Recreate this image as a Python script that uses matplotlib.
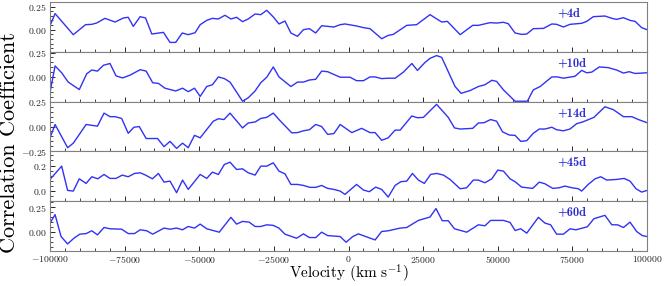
import matplotlib
matplotlib.use("Agg")
import matplotlib.pyplot as plt
from matplotlib.ticker import MultipleLocator, AutoMinorLocator, FuncFormatter

## DATA (velocity in km/s, correlation coefficient)

epochs = ["+4d", "+10d", "+14d", "+45d", "+60d"]

vel_4d = [-100000, -98300, -92200, -88100, -86000, -84400, -81600, -78200, -75400, -73800,
          -72100, -69800, -68000, -65900, -62000, -59800, -57900, -55700, -53700, -51400,
          -49700, -47500, -45600, -43600, -41400, -39400, -37500, -35500, -33600, -31300,
          -29400, -27400, -25200, -23300, -21300, -19300, -17100, -15100, -13100, -11000,
          -9000, -7000, -4900, -2800, -1200, 2700, 5000, 7200, 11100, 13300,
          15000, 19500, 22800, 27300, 31200, 33100, 37400, 41600, 43500, 47400,
          49600, 51900, 53500, 55800, 58000, 59700, 61900, 65300, 68100, 69700,
          72000, 74200, 78100, 79800, 82000, 85900, 88200, 89800, 92100, 94300,
          96000, 98200, 100000]
corr_4d = [0.043, 0.174, -0.054, 0.054, 0.058, 0.072, 0.123, 0.083, 0.127, 0.134,
           0.036, 0.141, 0.127, -0.047, -0.029, -0.138, -0.138, -0.036, -0.054, -0.033,
           0.054, 0.101, 0.123, 0.116, 0.156, 0.116, 0.134, 0.087, 0.116, 0.170,
           0.163, 0.210, 0.138, 0.062, 0.094, -0.036, -0.072, 0.000, 0.011, -0.036,
           0.043, 0.036, 0.029, 0.054, 0.062, 0.040, 0.022, 0.011, -0.098, -0.062,
           -0.051, 0.047, 0.054, 0.163, 0.083, 0.090, -0.054, 0.047, 0.047, 0.076,
           0.072, 0.080, 0.065, -0.036, -0.051, -0.047, 0.011, 0.014, 0.062, 0.058,
           0.029, 0.058, 0.069, 0.090, 0.141, 0.148, 0.123, 0.112, 0.130, 0.101,
           0.090, 0.022, 0.000]

vel_10d = [-100000, -98300, -96100, -93900, -90200, -87700, -86000, -84100, -82100, -79900,
           -77900, -75700, -73200, -69800, -67800, -65600, -63700, -61500, -57900, -55600,
           -53700, -51600, -49700, -47500, -45600, -43600, -41600, -39700, -35500, -33600,
           -31300, -29400, -27400, -25200, -23300, -19300, -17100, -15100, -13100, -11000,
           -9000, -7000, -2800, 500, 2700, 5000, 7200, 8900, 11100, 13300,
           15600, 18400, 21200, 23100, 25600, 27300, 29500, 31200, 35700, 37700,
           40700, 43500, 45700, 48000, 49600, 51900, 55800, 59900, 61900, 64200,
           68100, 70000, 72000, 75900, 78100, 79800, 81500, 84000, 87000, 89800,
           92100, 94000, 96000, 100000]
corr_10d = [-0.153, 0.115, 0.045, -0.049, -0.125, 0.035, 0.073, 0.062, 0.121, 0.139,
            0.014, -0.007, 0.021, 0.076, 0.062, -0.056, -0.062, -0.111, -0.139, -0.111,
            -0.146, -0.111, -0.194, -0.094, -0.076, 0.003, -0.014, -0.049, -0.243, -0.208,
            -0.139, -0.056, 0.000, 0.104, 0.003, -0.094, -0.049, -0.049, -0.028, -0.021,
            0.062, 0.056, 0.000, 0.000, -0.035, -0.035, 0.003, 0.003, -0.014, -0.010,
            -0.010, 0.052, 0.139, 0.069, 0.149, 0.191, 0.219, 0.201, -0.094, -0.163,
            -0.135, -0.094, -0.076, -0.031, -0.042, -0.128, -0.243, -0.243, -0.128, -0.094,
            0.003, 0.003, -0.010, 0.010, 0.069, 0.045, 0.052, 0.104, 0.097, 0.073,
            0.042, 0.056, 0.038, 0.045]

vel_14d = [-100000, -98300, -94100, -92200, -87900, -84100, -81900, -79900, -78200, -76000,
           -73800, -71900, -70100, -67800, -64000, -61800, -59800, -57600, -55600, -53700,
           -51600, -49700, -45300, -43600, -41700, -39700, -35500, -33600, -31300, -29400,
           -27400, -25200, -23300, -19000, -17100, -15100, -13100, -11000, -9000, -7000,
           -4900, -2800, 1100, 4400, 7200, 8900, 11100, 13300, 15600, 17300,
           21200, 23100, 25100, 29500, 33400, 35500, 37400, 41600, 43500, 45400,
           47600, 49600, 51600, 53900, 55800, 57700, 59700, 61900, 63900, 65800,
           68100, 69700, 72000, 74200, 76400, 78400, 82200, 85900, 88700, 92100,
           94900, 97100, 100000]
corr_14d = [-0.114, 0.021, -0.214, -0.168, 0.021, 0.004, 0.136, 0.100, 0.100, 0.082,
            -0.068, -0.007, 0.000, -0.121, -0.121, -0.203, -0.150, -0.221, -0.168, -0.214,
            -0.089, -0.114, 0.054, 0.079, 0.071, 0.136, -0.014, 0.036, 0.046, 0.082,
            0.093, 0.136, 0.071, -0.064, -0.061, -0.043, -0.032, 0.021, 0.000, -0.079,
            -0.071, 0.021, -0.061, -0.018, -0.061, -0.061, -0.139, -0.114, -0.036, -0.036,
            0.107, 0.089, 0.093, 0.225, 0.093, -0.014, -0.025, -0.018, 0.036, 0.039,
            0.071, 0.054, -0.054, -0.086, -0.089, -0.150, -0.143, -0.068, -0.025, -0.025,
            -0.007, -0.032, -0.043, -0.025, 0.029, 0.046, 0.093, 0.200, 0.171, 0.100,
            0.100, 0.071, 0.039]

vel_45d = [-100000, -96100, -94100, -92200, -90200, -87900, -86000, -84000, -81900, -79900,
           -77900, -75800, -73800, -71700, -69800, -68000, -65700, -63700, -61800, -59800,
           -57600, -55600, -53700, -49700, -47500, -45600, -43600, -41600, -39700, -37500,
           -35500, -33600, -31300, -29400, -27400, -25200, -23300, -21300, -19300, -17100,
           -15100, -12900, -11000, -9000, -7000, -4900, -2800, -1200, 2700, 5000,
           7000, 9100, 11100, 13300, 15600, 17500, 19500, 21400, 23400, 25400,
           27500, 29500, 31800, 34000, 37400, 39600, 41800, 43500, 45700, 48000,
           50000, 51900, 54100, 55800, 58000, 61700, 63900, 65800, 68400, 70600,
           72500, 74800, 77000, 78100, 80300, 82600, 84500, 86500, 89800, 92300,
           94300, 96300, 98200, 100000]
corr_45d = [0.091, 0.195, 0.005, 0.000, 0.096, 0.060, 0.112, 0.096, 0.130, 0.099,
            0.099, 0.125, 0.112, 0.138, 0.143, 0.125, 0.096, 0.138, 0.070, 0.078,
            -0.013, 0.086, 0.013, 0.130, 0.099, 0.148, 0.130, 0.208, 0.226, 0.169,
            0.174, 0.143, 0.125, 0.195, 0.195, 0.221, 0.156, 0.135, 0.052, 0.052,
            0.044, 0.029, 0.029, 0.044, 0.021, 0.013, 0.000, -0.026, 0.052, 0.008,
            -0.005, 0.031, 0.013, -0.047, 0.044, 0.073, 0.078, 0.138, 0.086, 0.060,
            0.130, 0.138, 0.125, 0.091, 0.018, 0.026, 0.086, 0.086, 0.065, 0.096,
            0.164, 0.156, 0.096, 0.073, 0.031, 0.021, 0.070, 0.057, 0.021, 0.026,
            0.039, 0.026, 0.018, 0.000, 0.052, 0.096, 0.112, 0.086, 0.091, 0.099,
            0.078, 0.018, -0.008, 0.005]

vel_60d = [-100000, -98300, -96300, -94100, -92000, -90000, -87900, -86000, -84100, -81900,
           -79900, -76000, -73800, -71700, -69800, -67600, -65600, -61800, -59800, -57600,
           -55600, -53700, -51600, -49700, -47500, -43300, -39400, -37500, -35500, -33300,
           -31300, -29400, -27400, -25200, -23300, -21300, -17400, -15100, -13100, -11000,
           -9000, -7000, -2800, -800, 1400, 3300, 8900, 11100, 13300, 17300,
           19500, 23400, 27300, 29300, 31400, 33400, 35500, 39600, 43500, 45700,
           47600, 51900, 54100, 55800, 57700, 59700, 63600, 65800, 67700, 69700,
           72000, 74200, 76200, 80000, 82200, 85900, 88200, 90100, 92100, 94300,
           96500, 98400, 100000]
corr_60d = [0.091, 0.176, -0.044, -0.118, -0.061, -0.020, -0.014, 0.014, -0.027, 0.047,
            0.034, 0.030, -0.014, -0.014, 0.024, 0.014, -0.020, 0.041, 0.030, 0.041,
            0.024, 0.057, 0.041, 0.081, 0.034, 0.000, 0.149, 0.081, 0.108, 0.101,
            0.057, 0.057, 0.074, 0.068, 0.041, -0.020, -0.061, -0.017, -0.054, -0.054,
            0.000, -0.034, -0.044, -0.101, -0.044, -0.017, -0.078, 0.007, 0.014, 0.041,
            0.047, 0.118, 0.152, 0.237, 0.115, 0.115, 0.034, 0.000, 0.074, 0.064,
            0.118, 0.118, 0.098, 0.017, 0.034, -0.010, 0.149, 0.091, 0.074, -0.020,
            -0.020, 0.034, 0.024, 0.054, 0.135, 0.169, 0.074, 0.074, 0.047, 0.101,
            0.007, -0.034, -0.044]

velocities = [vel_4d, vel_10d, vel_14d, vel_45d, vel_60d]
correlations = [corr_4d, corr_10d, corr_14d, corr_45d, corr_60d]

y_limits = [(-0.24, 0.30), (-0.247, 0.257), (-0.252, 0.252), (-0.08, 0.31), (-0.19, 0.31)]
y_ticks = [[0.0, 0.25], [0.0, 0.25], [-0.25, 0.0, 0.25], [0.0, 0.2], [0.0, 0.25]]
y_decimals = [2, 2, 2, 1, 2]

## STYLE

plt.rcParams["font.family"] = "serif"
plt.rcParams["font.serif"] = ["cmr10", "DejaVu Serif"]
plt.rcParams["mathtext.fontset"] = "cm"
plt.rcParams["axes.unicode_minus"] = True
plt.rcParams["axes.formatter.use_mathtext"] = True

line_color = "#3232f5"
label_color = "#2f2fd0"

fig, axes = plt.subplots(5, 1, sharex=True, figsize=(6.65, 2.86), dpi=100)
fig.subplots_adjust(left=0.0752, right=0.973, top=0.993, bottom=0.122, hspace=0)

for i, ax in enumerate(axes):
    ax.plot(velocities[i], correlations[i], color=line_color, lw=1.0)
    ax.set_ylim(*y_limits[i])
    ax.set_yticks(y_ticks[i])
    dec = y_decimals[i]
    ax.yaxis.set_major_formatter(FuncFormatter(lambda v, p, d=dec: f"${v:.{d}f}$"))
    ax.yaxis.set_minor_locator(AutoMinorLocator(5))
    ax.text(0.85, 0.78, epochs[i], transform=ax.transAxes, ha="left", va="center",
            color=label_color, fontsize=9, family=["cmb10", "DejaVu Serif"])

    for sp in ax.spines.values():
        sp.set_color("0.5")
        sp.set_linewidth(0.8)
    ax.tick_params(axis="both", which="both", direction="in", colors="0.15",
                   labelsize=7, pad=2)
    ax.tick_params(axis="both", which="major", length=3.6, width=0.7)
    ax.tick_params(axis="both", which="minor", length=2.0, width=0.6)
    ax.tick_params(axis="x", which="both", top=False, bottom=True)
    ax.tick_params(axis="y", which="both", left=True, right=False)

axes[-1].set_xlim(-100000, 100000)
axes[-1].xaxis.set_major_locator(MultipleLocator(25000))
axes[-1].xaxis.set_minor_locator(MultipleLocator(5000))
axes[-1].xaxis.set_major_formatter(FuncFormatter(lambda v, p: f"${int(round(v))}$"))

# axis titles placed in figure coords so they stay inside the small canvas
fig.text(0.524, 0.004, r"Velocity (km s$^{-1}$)", ha="center", va="bottom", fontsize=11)
fig.text(0.014, 0.5, "Correlation Coefficient", rotation=90, ha="center", va="center",
         fontsize=16)

plt.savefig("out.png", dpi=100)
